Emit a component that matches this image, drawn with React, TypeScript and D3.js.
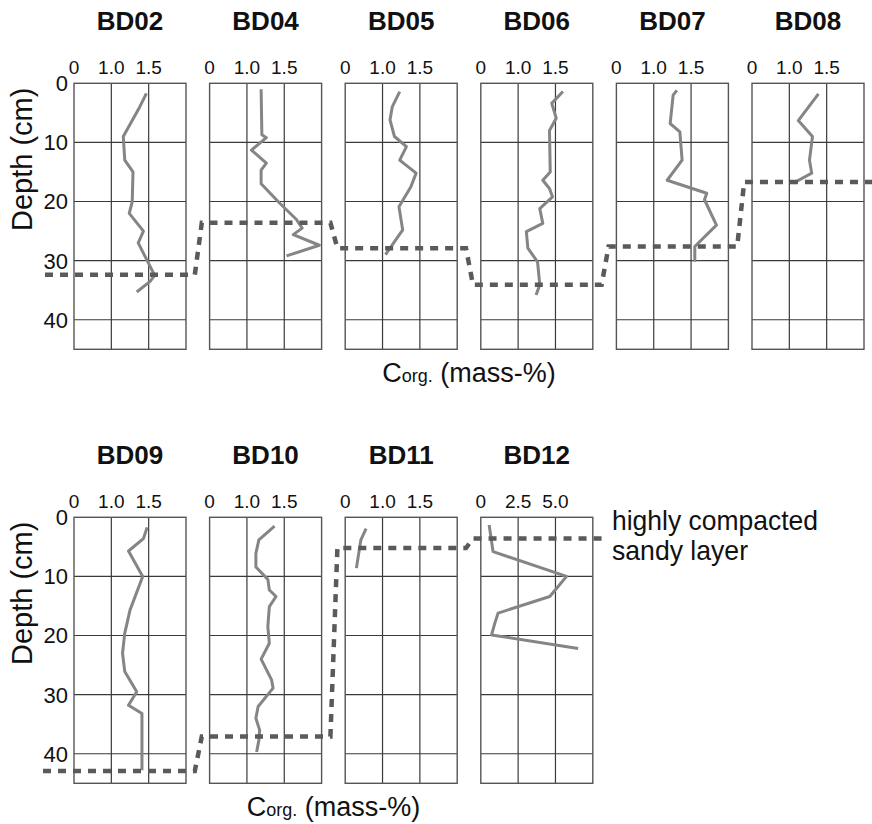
import React from "react";
import * as d3 from "d3";

// Core names, per row
const topCores = ["BD02", "BD04", "BD05", "BD06", "BD07", "BD08"];
const bottomCores = ["BD09", "BD10", "BD11", "BD12"];

// Organic carbon profiles: [depth (cm), Corg (mass-%)]
const bd02: [number, number][] = [
  [1.7, 1.47], [4, 1.38], [9, 1.16], [13, 1.18], [15, 1.29], [20, 1.28], [22, 1.24],
  [25, 1.43], [27, 1.36], [32.5, 1.58], [33.5, 1.52], [35.3, 1.34],
];
const bd04: [number, number][] = [
  [1, 1.19], [8.7, 1.2], [9.2, 1.26], [11.3, 1.06], [13.5, 1.26], [14.7, 1.19], [17, 1.19],
  [20.3, 1.44], [23, 1.66], [24.5, 1.74], [25.6, 1.62], [27.4, 1.97], [29.2, 1.53],
];
const bd05: [number, number][] = [
  [1.4, 1.23], [4, 1.13], [6.2, 1.1], [9, 1.16], [10.7, 1.32], [13, 1.23], [15.2, 1.45],
  [17.5, 1.38], [20.9, 1.22], [24.8, 1.27], [29, 1.04],
];
const bd06: [number, number][] = [
  [1.4, 1.6], [3.4, 1.45], [5.9, 1.51], [8, 1.42], [15, 1.43], [16.4, 1.33], [17.8, 1.42],
  [19.2, 1.46], [21.2, 1.29], [23.7, 1.33], [25.1, 1.11], [27.9, 1.13], [30.2, 1.26],
  [34.1, 1.29], [35.8, 1.24],
];
const bd07: [number, number][] = [
  [1.2, 1.31], [2, 1.26], [6.8, 1.22], [8.2, 1.35], [13, 1.38], [16.4, 1.18], [18.6, 1.71],
  [19.7, 1.68], [24, 1.84], [27.6, 1.55], [30.2, 1.55],
];
const bd08: [number, number][] = [
  [1.8, 1.39], [6.3, 1.12], [9, 1.31], [13, 1.27], [15.2, 1.3], [16.9, 1.05],
];
const bd09: [number, number][] = [
  [1.7, 1.48], [3.6, 1.43], [5.7, 1.23], [10, 1.42], [15.7, 1.25], [19.6, 1.18], [23, 1.15],
  [26.1, 1.18], [29.5, 1.34], [31.8, 1.23], [33.2, 1.41], [42.8, 1.41],
];
const bd10: [number, number][] = [
  [1.5, 1.37], [3.8, 1.16], [6.1, 1.12], [8.4, 1.12], [10.5, 1.28], [12.3, 1.3], [13.4, 1.39],
  [15.1, 1.3], [18.5, 1.28], [21.3, 1.3], [24, 1.19], [27.5, 1.33], [28.9, 1.35], [32, 1.15],
  [34, 1.12], [36, 1.17], [37.7, 1.16], [39.7, 1.13],
];
const bd11: [number, number][] = [[1.9, 0.78], [3.8, 0.71], [8.6, 0.65]];
const bd12: [number, number][] = [
  [1.3, 0.56], [5.8, 0.82], [10, 5.74], [11.7, 5.18], [13.4, 4.62], [16.2, 1.16], [17.9, 0.94],
  [19.9, 0.72], [22.2, 6.52],
];

const topProfiles = [bd02, bd04, bd05, bd06, bd07, bd08];
const bottomProfiles = [bd09, bd10, bd11, bd12];

// Depth of the highly compacted sandy layer in each core (cm)
const layerTop = [32.4, 23.6, 27.9, 34.1, 27.6, 16.7];
const layerBottom = [42.9, 37.1, 5.2, 3.6];

// Axes
const depthDomain: [number, number] = [0, 45];
const depthTicks = [0, 10, 20, 30, 40];
const corgDomain: [number, number] = [0.5, 2.0];
const corgTicks = [0.5, 1.0, 1.5];
const corgTickLabels = ["0", "1.0", "1.5"];
const wideDomain: [number, number] = [0, 7.5];
const wideTicks = [0, 2.5, 5.0];
const wideTickLabels = ["0", "2.5", "5.0"];

const FONT = "'Liberation Sans', Arial, Helvetica, sans-serif";
const W = 872;
const H = 824;

const PANEL_X0 = 74;
const PANEL_STEP = 135.6;
const PANEL_W = 112;
const PANEL_H = 266;

const GRID = "#3a3a3a";
const PROFILE = "#858585";
const LAYER = "#5a5a5a";

type PanelProps = {
  name: string;
  left: number;
  top: number;
  data: [number, number][];
  wide: boolean;
  showDepth: boolean;
};

function Panel({ name, left, top, data, wide, showDepth }: PanelProps) {
  const x = d3
    .scaleLinear()
    .domain(wide ? wideDomain : corgDomain)
    .range([left, left + PANEL_W]);
  const y = d3.scaleLinear().domain(depthDomain).range([top, top + PANEL_H]);
  const ticks = wide ? wideTicks : corgTicks;
  const labels = wide ? wideTickLabels : corgTickLabels;
  const dom = x.domain();
  const gridX = [dom[0] + (dom[1] - dom[0]) / 3, dom[0] + (2 * (dom[1] - dom[0])) / 3];
  const line = d3
    .line<[number, number]>()
    .x((d) => x(d[1]))
    .y((d) => y(d[0]));

  return (
    <g>
      <text
        x={left + PANEL_W / 2}
        y={top - 53}
        textAnchor="middle"
        fontFamily={FONT}
        fontWeight="bold"
        fontSize={26}
        fill="#111"
      >
        {name}
      </text>
      {ticks.map((t, i) => (
        <text
          key={t}
          x={x(t)}
          y={top - 9}
          textAnchor="middle"
          fontFamily={FONT}
          fontSize={19}
          fill="#111"
        >
          {labels[i]}
        </text>
      ))}
      {gridX.map((g) => (
        <line key={g} x1={x(g)} x2={x(g)} y1={top} y2={top + PANEL_H} stroke={GRID} strokeWidth={1.2} />
      ))}
      {depthTicks
        .filter((d) => d > 0)
        .map((d) => (
          <line key={d} x1={left} x2={left + PANEL_W} y1={y(d)} y2={y(d)} stroke={GRID} strokeWidth={1.2} />
        ))}
      <rect x={left} y={top} width={PANEL_W} height={PANEL_H} fill="none" stroke="#555" strokeWidth={1.4} />
      {showDepth &&
        depthTicks.map((d) => (
          <text
            key={d}
            x={68}
            y={y(d)}
            dy="0.36em"
            textAnchor="end"
            fontFamily={FONT}
            fontSize={22}
            fill="#111"
          >
            {d}
          </text>
        ))}
      <path d={line(data) || ""} fill="none" stroke={PROFILE} strokeWidth={3} strokeLinejoin="round" />
    </g>
  );
}

type RowProps = {
  cores: string[];
  profiles: [number, number][][];
  layer: number[];
  top: number;
  leadX: number;
  tailX: number;
  wideIndex: number;
};

function Row({ cores, profiles, layer, top, leadX, tailX, wideIndex }: RowProps) {
  const y = d3.scaleLinear().domain(depthDomain).range([top, top + PANEL_H]);
  const lefts = cores.map((_, i) => PANEL_X0 + i * PANEL_STEP);

  // Stepped trace of the compacted layer across the cores
  const pts: [number, number][] = [[leadX, y(layer[0])]];
  for (let i = 1; i < cores.length; i++) {
    const mid = (lefts[i - 1] + PANEL_W + lefts[i]) / 2;
    pts.push([mid - 3, y(layer[i - 1])]);
    pts.push([mid + 4, y(layer[i])]);
  }
  pts.push([tailX, y(layer[layer.length - 1])]);
  const layerLine = d3.line();

  const rowCenter = (lefts[0] + lefts[lefts.length - 1] + PANEL_W) / 2;

  return (
    <g>
      <text
        transform={`translate(32,${top + 76}) rotate(-90)`}
        textAnchor="middle"
        fontFamily={FONT}
        fontSize={29}
        fill="#111"
      >
        Depth (cm)
      </text>
      {cores.map((c, i) => (
        <Panel
          key={c}
          name={c}
          left={lefts[i]}
          top={top}
          data={profiles[i]}
          wide={i === wideIndex}
          showDepth={i === 0}
        />
      ))}
      <path
        d={layerLine(pts) || ""}
        fill="none"
        stroke={LAYER}
        strokeWidth={4.5}
        strokeDasharray="8 7"
      />
      <text x={rowCenter} y={top + PANEL_H + 33} textAnchor="middle" fontFamily={FONT} fill="#111">
        <tspan fontSize={27}>C</tspan>
        <tspan fontSize={18}>org.</tspan>
        <tspan fontSize={27}> (mass-%)</tspan>
      </text>
    </g>
  );
}

export default function App() {
  return (
    <svg
      width={W}
      height={H}
      viewBox={`0 0 ${W} ${H}`}
      style={{ position: "absolute", left: 0, top: 0, background: "#fff" }}
    >
      <rect width={W} height={H} fill="#fff" />
      <Row
        cores={topCores}
        profiles={topProfiles}
        layer={layerTop}
        top={83.3}
        leadX={45}
        tailX={872}
        wideIndex={-1}
      />
      <Row
        cores={bottomCores}
        profiles={bottomProfiles}
        layer={layerBottom}
        top={517.3}
        leadX={43}
        tailX={606}
        wideIndex={3}
      />
      <text fontFamily={FONT} fontSize={28} fill="#111">
        <tspan x={612} y={530} textLength={206} lengthAdjust="spacingAndGlyphs">
          highly compacted
        </tspan>
        <tspan x={612} y={560} textLength={136} lengthAdjust="spacingAndGlyphs">
          sandy layer
        </tspan>
      </text>
    </svg>
  );
}
